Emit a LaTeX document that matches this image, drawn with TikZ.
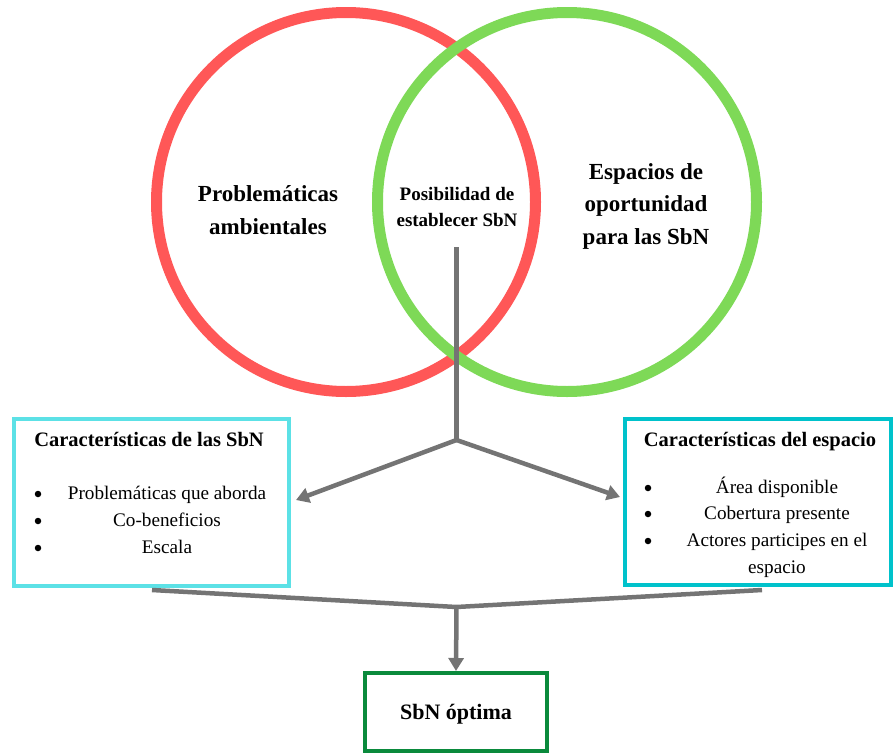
\documentclass[tikz,border=0pt]{standalone}
\usepackage{fontspec}
\setmainfont{Liberation Serif}
\usetikzlibrary{arrows.meta}
\definecolor{cred}{HTML}{FF5757}
\definecolor{cgreen}{HTML}{7ED957}
\definecolor{ccyanA}{HTML}{5CE1E6}
\definecolor{ccyanB}{HTML}{00C2CB}
\definecolor{cdark}{HTML}{0A8A3C}
\definecolor{cgray}{HTML}{747474}
\begin{document}
\begin{tikzpicture}[x=1pt,y=-1pt,
  ring/.style={circle,draw,line width=11pt,minimum size=379pt,inner sep=0pt},
  bigtxt/.style={font=\fontsize{23}{32.5}\selectfont\bfseries,align=center,inner sep=0pt},
  midtxt/.style={font=\fontsize{19}{26}\selectfont\bfseries,align=center,inner sep=0pt},
  boxa/.style={draw=ccyanA,line width=4pt,minimum width=275pt,minimum height=167pt,inner sep=0pt},
  boxb/.style={draw=ccyanB,line width=4pt,minimum width=266pt,minimum height=166pt,inner sep=0pt},
  boxc/.style={draw=cdark,line width=4pt,minimum width=182pt,minimum height=78pt,inner sep=0pt},
  ttl/.style={font=\fontsize{20.5}{25}\selectfont\bfseries,inner sep=0pt,text height=0.7em,text depth=0.25em},
  itm/.style={font=\fontsize{19.2}{25}\selectfont,inner sep=0pt,text height=0.7em,text depth=0.25em},
  bul/.style={circle,fill=black,inner sep=0pt,minimum size=6.5pt},
  conn/.style={draw=cgray,line width=4.5pt},
  arr/.style={conn,-{Triangle[length=13pt,width=15pt]}}
]
\useasboundingbox (0,0) rectangle (894,755);
% Venn circles
\node[ring,draw=cred] (rc) at (346,202) {};
\node[ring,draw=cgreen] (gc) at (567,202) {};
\node[bigtxt] (t1) at (268,210) {Problemáticas\\ambientales};
\node[midtxt] (t2) at (457,207) {Posibilidad de\\establecer SbN};
\node[bigtxt] (t3) at (646,206) {Espacios de\\oportunidad\\para las SbN};
% boxes
\node[boxa] (lbox) at (151.5,502.5) {};
\node[boxb] (rbox) at (758,502) {};
\node[boxc] (sbn) at (456,712) {};
\node[ttl] (lt) at (149,444) {Características de las SbN};
\node[bul] (lb1) at (38,494) {};
\node[bul] (lb2) at (38,521) {};
\node[bul] (lb3) at (38,548) {};
\node[itm] (li1) at (167,497) {Problemáticas que aborda};
\node[itm] (li2) at (167,524) {Co-beneficios};
\node[itm] (li3) at (167,551) {Escala};
\node[ttl] (rt) at (760,444) {Características del espacio};
\node[bul] (rb1) at (648,488) {};
\node[bul] (rb2) at (648,514) {};
\node[bul] (rb3) at (648,541) {};
\node[itm] (ri1) at (777,491) {Área disponible};
\node[itm] (ri2) at (777,517) {Cobertura presente};
\node[itm] (ri3) at (777,544) {Actores participes en el};
\node[itm] (ri4) at (777,571) {espacio};
\node[font=\fontsize{22}{26}\selectfont\bfseries,inner sep=0pt,text height=0.7em,text depth=0.25em] (st) at (456,717) {SbN óptima};
% connectors
\coordinate (top) at (456.5,247);
\coordinate (j1) at (456.5,440);
\coordinate (la) at (296,500);
\coordinate (ra) at (620,497);
\coordinate (c1) at (152,590);
\coordinate (c2) at (762,590);
\coordinate (j2) at (456.5,607);
\draw[conn] (top) -- (j1);
\draw[arr] (j1) -- (la);
\draw[arr] (j1) -- (ra);
\draw[conn,line join=round] (c1) -- (j2) -- (c2);
\draw[arr] (j2) -- (sbn.north);
\end{tikzpicture}
\end{document}
